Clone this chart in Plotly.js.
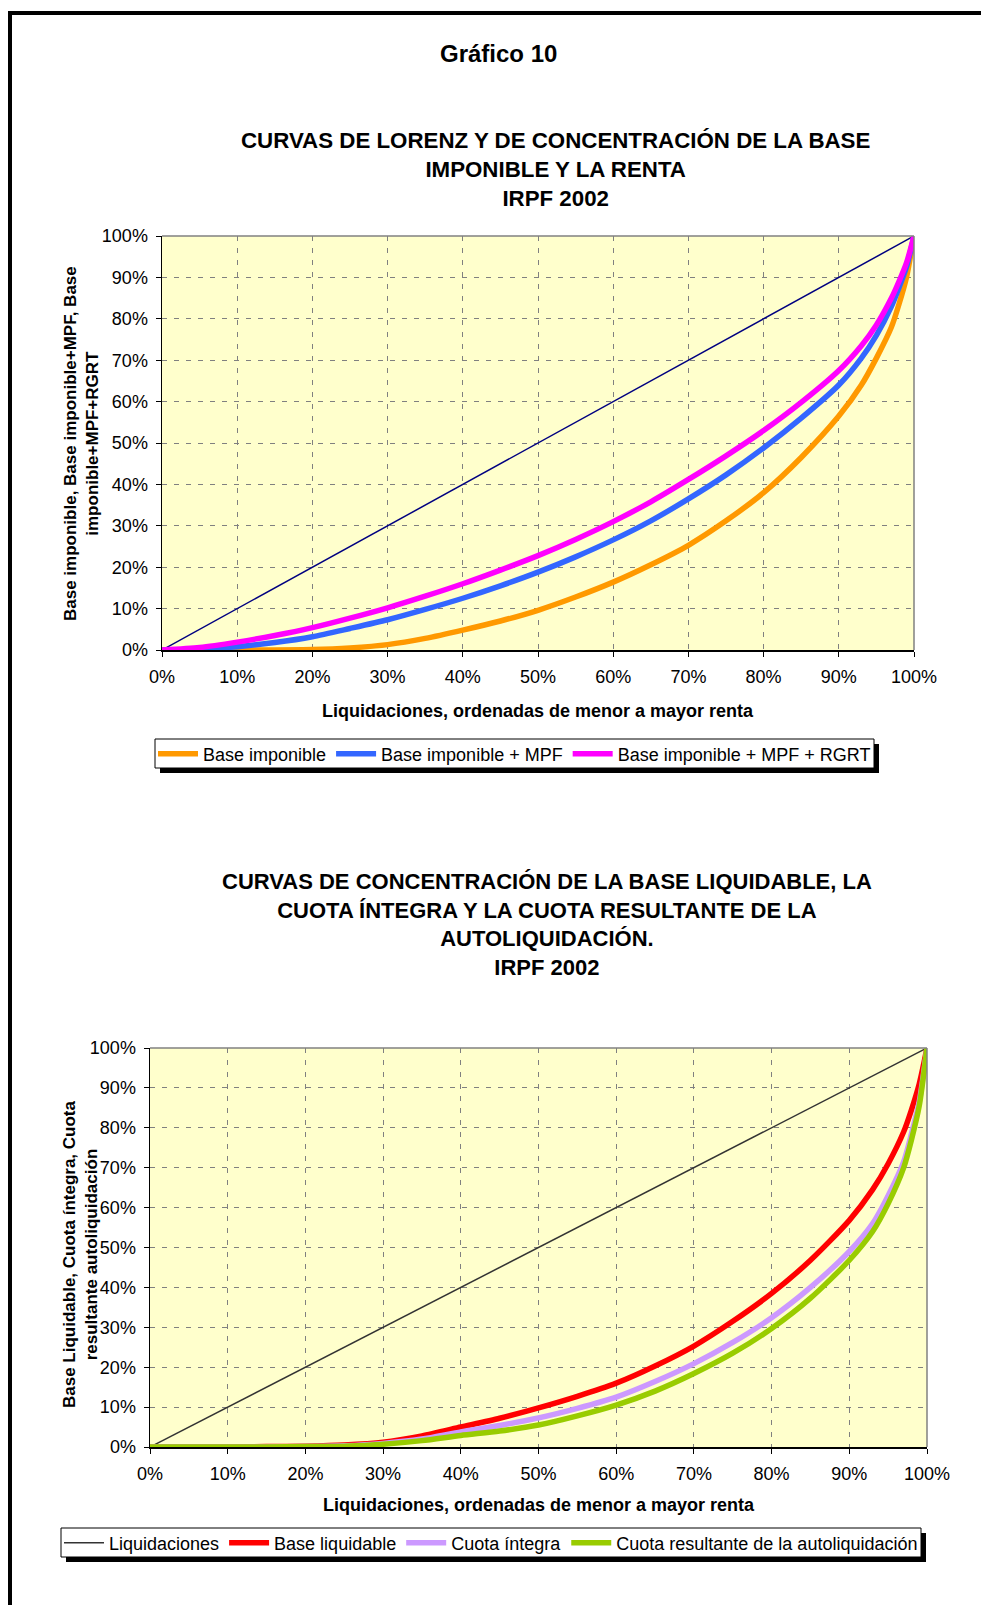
<!DOCTYPE html>
<html>
<head>
<meta charset="utf-8">
<script src="https://cdn.plot.ly/plotly-3.0.1.min.js"></script>
<style>
html,body{margin:0;padding:0;background:#fff;}
#chart{width:981px;height:1605px;}
</style>
</head>
<body>
<div id="chart"></div>
<script>
// ---------- DATA ----------
const pct = [0,5,10,15,20,25,30,35,40,45,50,55,60,65,70,75,80,85,90,93,95,97,98,99,100];
const diagX = [0,100];
const diagY = [0,100];

// Chart 1
const baseImponible        = [0,0,0,0,0.1,0.5,1.3,2.8,4.8,7.0,9.6,12.8,16.4,20.6,25.3,31.2,38.0,46.5,56.5,64.0,70.5,78.0,83.5,90.0,100];
const baseImponibleMPF     = [0,0.2,0.8,1.8,3.2,5.2,7.3,9.8,12.5,15.5,18.8,22.5,26.6,31.2,36.5,42.3,48.8,56.0,64.0,70.5,76.0,83.0,87.5,92.5,100];
const baseImponibleMPFRGRT = [0,0.6,1.9,3.5,5.4,7.7,10.2,13.0,16.0,19.3,22.8,26.7,31.0,35.8,41.2,46.9,53.0,59.8,67.5,73.5,78.5,85.0,89.0,93.5,100];

// Chart 2
const baseLiquidable  = [0,0,0,0.1,0.2,0.5,1.2,2.8,5.0,7.2,9.8,12.7,16.0,20.3,25.3,31.5,38.5,46.8,56.8,64.5,71.0,79.0,84.5,91.0,100];
const cuotaIntegra    = [0,0,0,0,0.1,0.3,0.9,2.0,3.8,5.4,7.3,9.7,12.5,16.4,20.9,26.2,32.4,40.0,49.0,56.0,63.0,71.5,78.5,86.5,100];
const cuotaResultante = [0,0,0,0,0.1,0.2,0.7,1.6,2.9,4.0,5.5,7.8,10.5,14.0,18.4,23.5,29.7,37.3,46.8,54.0,61.0,70.0,77.0,85.5,100];

const tickVals = [0,10,20,30,40,50,60,70,80,90,100];
const tickText = ['0%','10%','20%','30%','40%','50%','60%','70%','80%','90%','100%'];

const names1 = ['Base imponible','Base imponible + MPF','Base imponible + MPF + RGRT'];
const names2 = ['Liquidaciones','Base liquidable','Cuota íntegra','Cuota resultante de la autoliquidación'];

const pageTitle = 'Gráfico 10';
const title1 = 'CURVAS DE LORENZ Y DE CONCENTRACIÓN DE LA BASE<br>IMPONIBLE Y LA RENTA<br>IRPF 2002';
const title2 = 'CURVAS DE CONCENTRACIÓN DE LA BASE LIQUIDABLE, LA<br>CUOTA ÍNTEGRA Y LA CUOTA RESULTANTE DE LA<br>AUTOLIQUIDACIÓN.<br>IRPF 2002';
const xTitle = 'Liquidaciones, ordenadas de menor a mayor renta';
const yTitle1 = 'Base imponible, Base imponible+MPF, Base<br>imponible+MPF+RGRT';
const yTitle2 = 'Base Liquidable, Cuota íntegra, Cuota<br>resultante autoliquidación';

// ---------- LAYOUT HELPERS ----------
const W = 981, H = 1605;
const px = x => x / W;
const py = y => 1 - y / H;
const FONT = 'Arial, "Liberation Sans", Helvetica, sans-serif';

function axis(domain, anchor, standoff){
  return {domain, anchor, range:[0,100], tickvals:tickVals, ticktext:tickText,
    showgrid:true, gridcolor:'#808080', griddash:'5px,7px', gridwidth:1,
    showline:true, linecolor:'#000', linewidth:1.5, ticks:'outside', ticklen:5, tickcolor:'#000', tickwidth:1,
    ticklabelstandoff:standoff,
    tickfont:{family:FONT,size:18,color:'#000'}, zeroline:false, fixedrange:true};
}

const LW = 5.5;
const sp = {shape:'spline', smoothing:0.7};
const data = [
  {x:diagX, y:diagY, xaxis:'x', yaxis:'y', mode:'lines', line:{color:'#000080', width:1.5}, showlegend:false, hoverinfo:'skip'},
  {x:pct, y:baseImponible, xaxis:'x', yaxis:'y', mode:'lines', name:names1[0], line:Object.assign({color:'#FF9900', width:LW}, sp), legend:'legend'},
  {x:pct, y:baseImponibleMPF, xaxis:'x', yaxis:'y', mode:'lines', name:names1[1], line:Object.assign({color:'#3366FF', width:LW}, sp), legend:'legend'},
  {x:pct, y:baseImponibleMPFRGRT, xaxis:'x', yaxis:'y', mode:'lines', name:names1[2], line:Object.assign({color:'#FF00FF', width:LW}, sp), legend:'legend'},

  {x:diagX, y:diagY, xaxis:'x2', yaxis:'y2', mode:'lines', name:names2[0], line:{color:'#333333', width:1.5}, legend:'legend2'},
  {x:pct, y:baseLiquidable, xaxis:'x2', yaxis:'y2', mode:'lines', name:names2[1], line:Object.assign({color:'#FF0000', width:LW}, sp), legend:'legend2'},
  {x:pct, y:cuotaIntegra, xaxis:'x2', yaxis:'y2', mode:'lines', name:names2[2], line:Object.assign({color:'#CC99FF', width:LW}, sp), legend:'legend2'},
  {x:pct, y:cuotaResultante, xaxis:'x2', yaxis:'y2', mode:'lines', name:names2[3], line:Object.assign({color:'#99CC00', width:LW}, sp), legend:'legend2'}
];

const legendBase = {orientation:'h', xanchor:'left', yanchor:'middle', bgcolor:'rgba(0,0,0,0)', borderwidth:0,
  itemwidth:40, font:{family:FONT,size:18,color:'#000'}, traceorder:'normal', itemclick:false, itemdoubleclick:false};

const frameLine = {color:'#808080', width:1.5};
const shapes = [
  // page border
  {type:'rect', xref:'paper', yref:'paper', x0:px(8), x1:px(981), y0:py(15), y1:py(11), fillcolor:'#000', line:{width:0}},
  {type:'rect', xref:'paper', yref:'paper', x0:px(8), x1:px(12), y0:py(1605), y1:py(11), fillcolor:'#000', line:{width:0}},
  // grey top/right frames
  {type:'line', xref:'x domain', yref:'y domain', x0:0, x1:1, y0:1, y1:1, line:frameLine},
  {type:'line', xref:'x domain', yref:'y domain', x0:1, x1:1, y0:0, y1:1, line:frameLine},
  {type:'line', xref:'x2 domain', yref:'y2 domain', x0:0, x1:1, y0:1, y1:1, line:frameLine},
  {type:'line', xref:'x2 domain', yref:'y2 domain', x0:1, x1:1, y0:0, y1:1, line:frameLine}
];

const ann = (text, x, y, size, extra) => Object.assign({text, x:px(x), y:py(y), xref:'paper', yref:'paper', showarrow:false,
  xanchor:'center', yanchor:'middle', font:{family:FONT, size, color:'#000'}}, extra||{});

const layout = {
  width:W, height:H, autosize:false,
  margin:{l:0,r:0,t:0,b:0},
  paper_bgcolor:'#fff', plot_bgcolor:'#FFFFCC',
  showlegend:true,
  xaxis: axis([px(162), px(914)], 'y', 5),
  yaxis: axis([py(650), py(236)], 'x', 4),
  xaxis2: axis([px(150), px(927)], 'y2', 5),
  yaxis2: axis([py(1447), py(1048)], 'x2', 4),
  legend: Object.assign({x:px(153), y:py(754)}, legendBase),
  legend2: Object.assign({x:px(59), y:py(1543)}, legendBase),
  shapes: shapes,
  annotations: [
    ann('<b>'+pageTitle+'</b>', 498.5, 54, 24),
    ann('<b>'+title1+'</b>', 555, 169.5, 22.3),
    ann('<b>'+xTitle+'</b>', 538, 711, 18),
    ann('<b>'+yTitle1+'</b>', 81, 444, 17, {textangle:-90}),
    ann('<b>'+title2+'</b>', 547, 924.5, 22),
    ann('<b>'+xTitle+'</b>', 539, 1505, 18),
    ann('<b>'+yTitle2+'</b>', 80, 1254, 17, {textangle:-90})
  ]
};

// legend box vertical extents (px)
const legendBoxes = {legend:[739, 768], legend2:[1528, 1557]};

Plotly.newPlot('chart', data, layout, {staticPlot:true, displayModeBar:false}).then(gd => {
  const root = gd.getBoundingClientRect();
  const newShapes = shapes.slice();
  Object.keys(legendBoxes).forEach(id => {
    const bg = gd.querySelector('g.' + id + ' rect.bg');
    if (!bg) return;
    const r = bg.getBoundingClientRect();
    const L = r.left - root.left + 2, R = r.right - root.left - 2;
    const [T, B] = legendBoxes[id];
    const off = 5;
    newShapes.push({type:'rect', xref:'paper', yref:'paper',
      x0:px(L + off), x1:px(R + off), y0:py(B + off), y1:py(T + off),
      fillcolor:'#000', line:{width:0}, layer:'above'});
    newShapes.push({type:'rect', xref:'paper', yref:'paper',
      x0:px(L), x1:px(R), y0:py(B), y1:py(T),
      fillcolor:'#fff', line:{color:'#000', width:1}, layer:'above'});
  });
  return Plotly.relayout(gd, {shapes:newShapes});
});
</script>
</body>
</html>
